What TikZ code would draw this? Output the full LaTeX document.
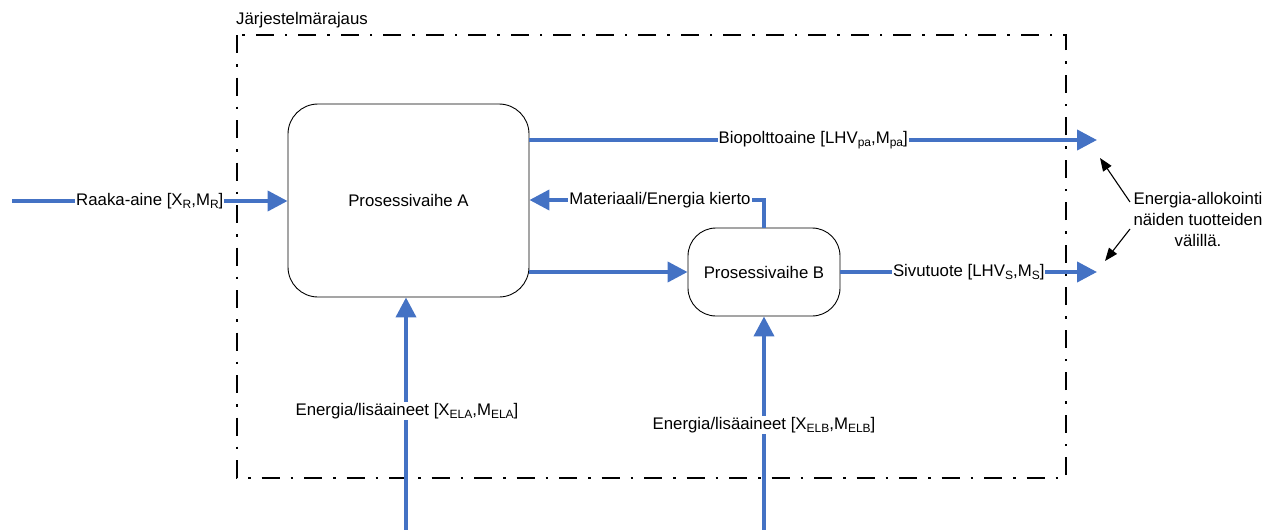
\documentclass[tikz,border=0pt]{standalone}
\usepackage{fontspec}
\setmainfont{Liberation Sans}
\usetikzlibrary{arrows.meta}
\definecolor{flowblue}{RGB}{68,114,196}
\newcommand\sbs[1]{\raisebox{-0.3ex}{\fontsize{12}{12}\selectfont #1}}
\begin{document}
\begin{tikzpicture}[x=1pt,y=-1pt,
  every node/.style={font=\fontsize{16.8}{20}\selectfont},
  flow/.style={draw=flowblue,line width=4pt,-{Triangle[length=20pt,width=20pt]}},
  lbl/.style={fill=white,inner sep=1pt},
  procbox/.style={draw=black,line width=0.9pt,rounded corners=30pt},
  boundary/.style={draw=black,line width=2.5pt,dash pattern=on 18pt off 11pt on 2.5pt off 11pt},
  note/.style={draw=black,line width=1.1pt,-{Triangle[length=13pt,width=10pt]}}]
\useasboundingbox (0,0) rectangle (1277,530);

% system boundary
\draw[boundary] (237,35) rectangle (1066,478);
\node[anchor=west,inner sep=0pt] (sysname) at (236,20) {Järjestelmärajaus};

% process stages
\node[procbox,minimum width=241pt,minimum height=193pt] (boxA) at (408.5,200.5) {Prosessivaihe A};
\node[procbox,minimum width=152pt,minimum height=88pt,rounded corners=28pt] (boxB) at (764,272) {Prosessivaihe B};

% free ends of the flows
\coordinate (rawin) at (12,201);
\coordinate (fuelout) at (1097,140);
\coordinate (sideout) at (1097,272);
\coordinate (enAin) at (406,530);
\coordinate (enBin) at (764,530);
\coordinate (loopcorner) at (764,200);

% raw material in
\draw[flow] (rawin) -- node[lbl] (rawlbl) {Raaka-aine [X\sbs{R},M\sbs{R}]} (rawin -| boxA.west);

% main product out
\draw[flow] (fuelout -| boxA.east) -- node[lbl] (fuellbl) {Biopolttoaine [LHV\sbs{pa},M\sbs{pa}]} (fuelout);

% recirculation from B back to A
\draw[flow] (boxB.north) -- (loopcorner) -- (loopcorner -| boxA.east);
\node[lbl] (looplbl) at (660,200) {Materiaali/Energia kierto};

% A to B
\draw[flow] (boxA.east |- boxB.west) -- (boxB.west);

% by-product out
\draw[flow] (boxB.east) -- node[lbl] (sidelbl) {Sivutuote [LHV\sbs{S},M\sbs{S}]} (sideout);

% energy and additives
\draw[flow] (enAin) -- (enAin |- boxA.south);
\node[lbl] (enAlbl) at (407,411) {Energia/lisäaineet [X\sbs{ELA},M\sbs{ELA}]};
\draw[flow] (enBin) -- (boxB.south);
\node[lbl] (enBlbl) at (764,425) {Energia/lisäaineet [X\sbs{ELB},M\sbs{ELB}]};

% allocation note
\node[align=center,inner sep=0pt,font=\fontsize{16.8}{21}\selectfont] (alloc) at (1198,219) {Energia-allokointi\\näiden tuotteiden\\välillä.};
\coordinate (noteA) at (1130,202);
\coordinate (noteB) at (1130,229);
\coordinate (tipA) at (1100,158);
\coordinate (tipB) at (1105,261);
\draw[note] (noteA) -- (tipA);
\draw[note] (noteB) -- (tipB);
\end{tikzpicture}
\end{document}
